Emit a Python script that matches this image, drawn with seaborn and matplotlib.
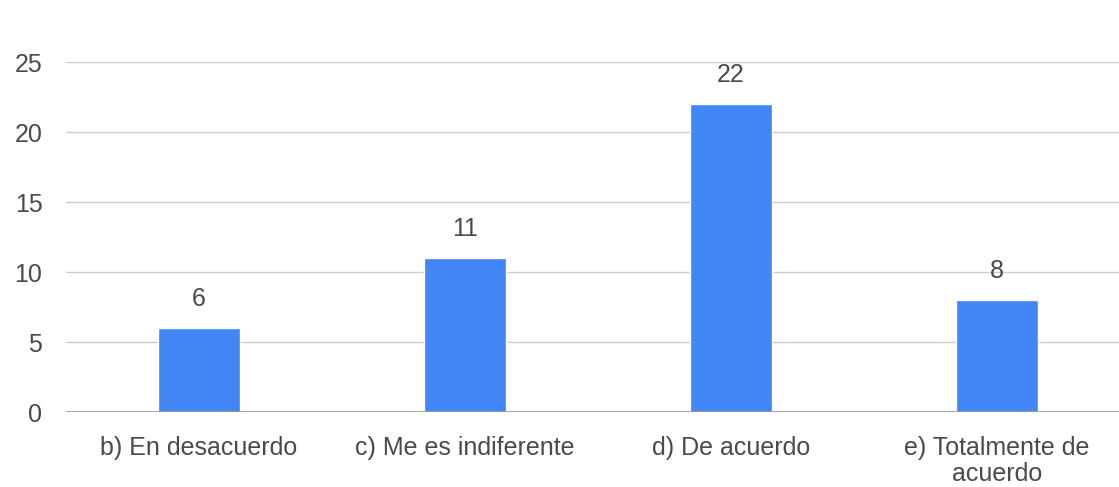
import matplotlib
matplotlib.use("Agg")
import matplotlib.pyplot as plt
import seaborn as sns
import pandas as pd

categories = ["b) En desacuerdo", "c) Me es indiferente", "d) De acuerdo", "e) Totalmente de\nacuerdo"]
counts = [6, 11, 22, 8]
y_ticks = [0, 5, 10, 15, 20, 25]

df = pd.DataFrame({"respuesta": categories, "n": counts})

sns.set_style("white")
plt.rcParams["font.family"] = ["Liberation Sans", "DejaVu Sans"]

fig = plt.figure(figsize=(11.19, 4.87), dpi=100)
ax = fig.add_axes([66 / 1119, 75 / 487, 1064 / 1119, 350 / 487])

sns.barplot(data=df, x="respuesta", y="n", color="#4285F4", width=0.31,
            saturation=1, ax=ax, zorder=3)

for i, v in enumerate(counts):
    ax.text(i, v + 1.2, str(v), ha="center", va="bottom", fontsize=18, color="#4a4a4a")

ax.set_ylim(0, 25)
ax.set_yticks(y_ticks)
ax.grid(axis="y", color="#cccccc", linewidth=1, zorder=0)
ax.axhline(0, color="#999999", linewidth=1.2, zorder=4)
for s in ax.spines.values():
    s.set_visible(False)
ax.tick_params(axis="both", length=0, labelsize=18, labelcolor="#4a4a4a")
ax.tick_params(axis="y", pad=17)
ax.tick_params(axis="x", pad=17)
for lab in ax.get_xticklabels():
    lab.set_linespacing(1.1)
ax.set_xlabel("")
ax.set_ylabel("")

fig.savefig("out.png", dpi=100)
